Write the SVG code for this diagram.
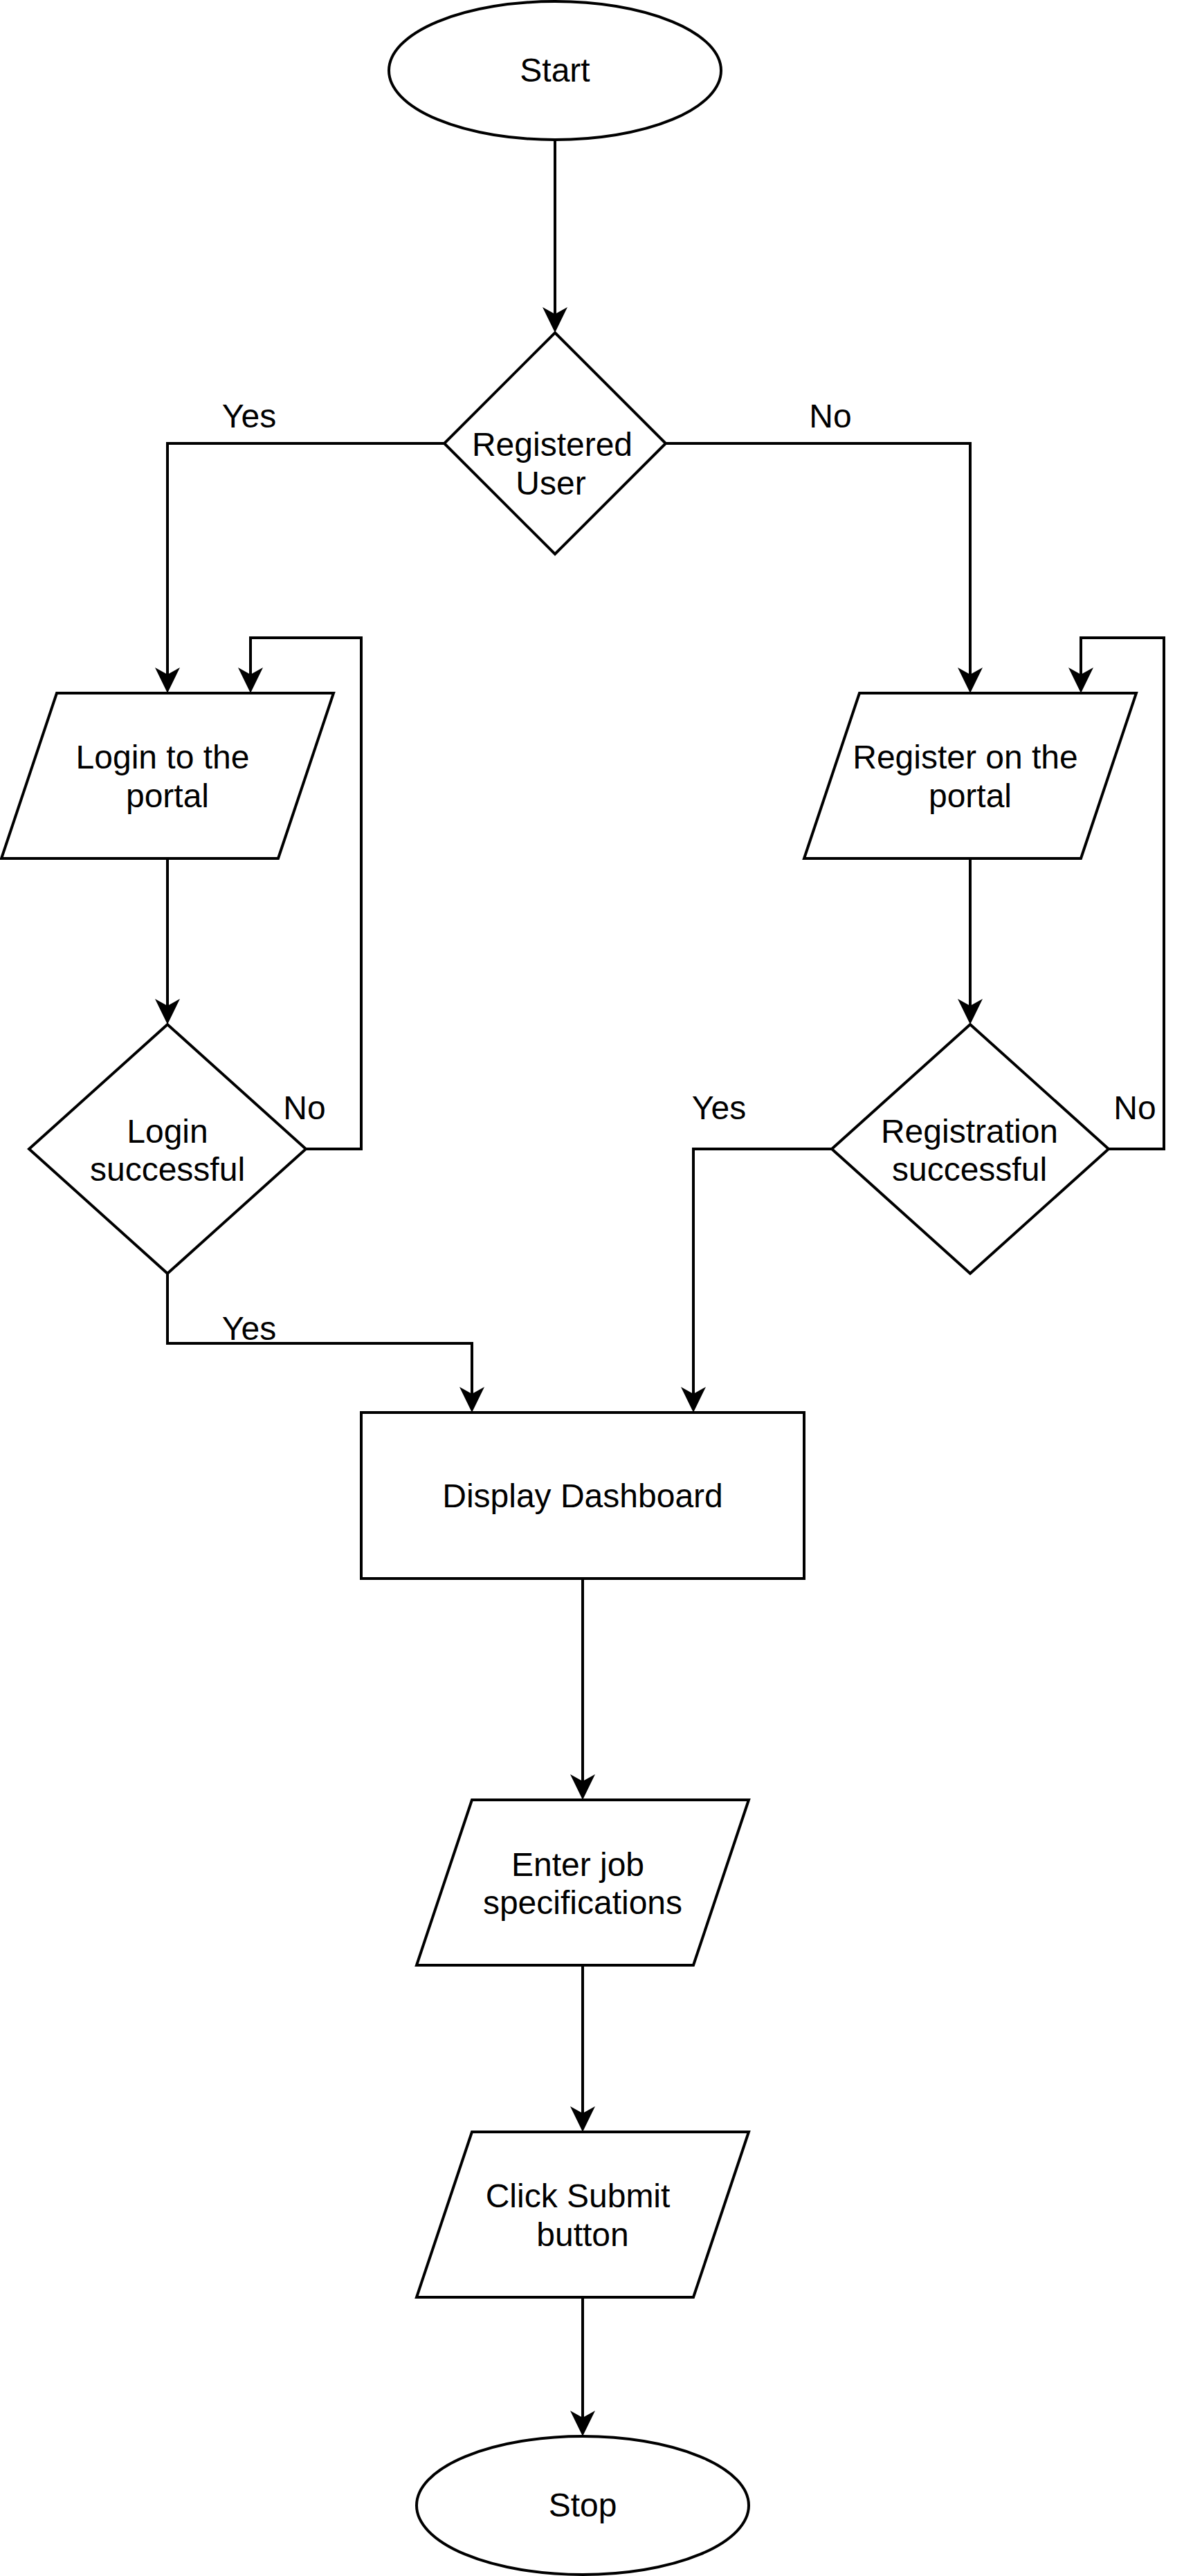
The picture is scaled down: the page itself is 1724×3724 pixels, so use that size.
<svg xmlns="http://www.w3.org/2000/svg" width="1724" height="3724" viewBox="0 0 1724 3724">
<style>
.s{fill:#fff;stroke:#000;stroke-width:4}
.c{fill:none;stroke:#000;stroke-width:4}
text{font-family:"Liberation Sans",Arial,sans-serif;font-size:48px;fill:#000;text-anchor:middle}
</style>
<defs>
<marker id="arr" markerUnits="userSpaceOnUse" markerWidth="40" markerHeight="40" viewBox="0 -20 40 40" refX="10" refY="0" orient="auto">
<path d="M37,0 L0,-18 L10,0 L0,18 Z" fill="#000"/>
</marker>
</defs>
<rect width="1724" height="3724" fill="#fff"/>
<g id="connectors">
<path class="c" d="M802,202 V454" marker-end="url(#arr)"/>
<path class="c" d="M642,641 H242 V975" marker-end="url(#arr)"/>
<path class="c" d="M962,641 H1402 V975" marker-end="url(#arr)"/>
<path class="c" d="M242,1241 V1454" marker-end="url(#arr)"/>
<path class="c" d="M442,1661 H522 V922 H362 V975" marker-end="url(#arr)"/>
<path class="c" d="M242,1841 V1942 H682 V2015" marker-end="url(#arr)"/>
<path class="c" d="M1402,1241 V1454" marker-end="url(#arr)"/>
<path class="c" d="M1602,1661 H1682 V922 H1562 V975" marker-end="url(#arr)"/>
<path class="c" d="M1202,1661 H1002 V2015" marker-end="url(#arr)"/>
<path class="c" d="M842,2282 V2575" marker-end="url(#arr)"/>
<path class="c" d="M842,2841 V3055" marker-end="url(#arr)"/>
<path class="c" d="M842,3321 V3495" marker-end="url(#arr)"/>
<text x="360" y="618">Yes</text>
<text x="1200" y="618">No</text>
<text x="440" y="1618">No</text>
<text x="360" y="1937">Yes</text>
<text x="1039" y="1618">Yes</text>
<text x="1640" y="1618">No</text>
</g>
<g id="start">
<ellipse class="s" cx="802" cy="102" rx="240" ry="100"/>
<text x="802" y="118">Start</text>
</g>
<g id="registered">
<polygon class="s" points="802,481 962,641 802,801 642,641"/>
<text x="798" y="659">Registered</text>
<text x="796" y="715">User</text>
</g>
<g id="login">
<polygon class="s" points="82,1002 482,1002 402,1241 2,1241"/>
<text x="235" y="1111">Login to the</text>
<text x="242" y="1167">portal</text>
</g>
<g id="register">
<polygon class="s" points="1242,1002 1642,1002 1562,1241 1162,1241"/>
<text x="1395" y="1111">Register on the</text>
<text x="1402" y="1167">portal</text>
</g>
<g id="login-ok">
<polygon class="s" points="242,1481 442,1661 242,1841 42,1661"/>
<text x="242" y="1652">Login</text>
<text x="242" y="1707">successful</text>
</g>
<g id="reg-ok">
<polygon class="s" points="1402,1481 1602,1661 1402,1841 1202,1661"/>
<text x="1401" y="1652">Registration</text>
<text x="1401" y="1707">successful</text>
</g>
<g id="dashboard">
<rect class="s" x="522" y="2042" width="640" height="240"/>
<text x="842" y="2179">Display Dashboard</text>
</g>
<g id="enter-job">
<polygon class="s" points="682,2602 1082,2602 1002,2841 602,2841"/>
<text x="835" y="2712">Enter job</text>
<text x="842" y="2767">specifications</text>
</g>
<g id="submit">
<polygon class="s" points="682,3082 1082,3082 1002,3321 602,3321"/>
<text x="835" y="3191">Click Submit</text>
<text x="842" y="3247">button</text>
</g>
<g id="stop">
<ellipse class="s" cx="842" cy="3622" rx="240" ry="100"/>
<text x="842" y="3638">Stop</text>
</g>
</svg>
